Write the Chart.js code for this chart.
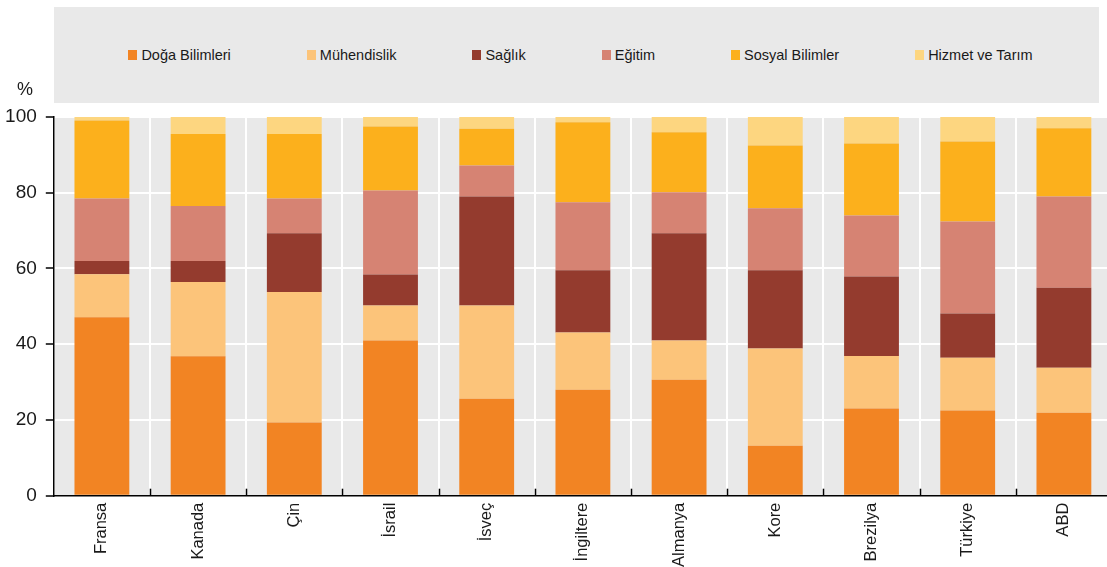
<!DOCTYPE html>
<html lang="tr">
<head>
<meta charset="utf-8">
<script src="https://cdn.jsdelivr.net/npm/chart.js@4/dist/chart.umd.min.js"></script>
<style>
  html, body { margin: 0; padding: 0; background: #fff; overflow: hidden; width: 1107px; height: 567px; }
  #wrap { position: relative; width: 1107px; height: 567px; overflow: hidden; }
  #legend {
    position: absolute; left: 54px; top: 7px; width: 1045px; height: 96px;
    background: #e9e9e9; display: flex; align-items: center; justify-content: center;
    padding-left: 8px; box-sizing: border-box; gap: 76px;
    font-family: "Liberation Sans", Arial, sans-serif; font-size: 14.5px; color: #1a1a1a;
  }
  .item { display: flex; align-items: center; white-space: nowrap; }
  .sw { width: 9px; height: 10px; margin-right: 4px; }
  #unit {
    position: absolute; left: 17px; top: 79px;
    font-family: "Liberation Sans", Arial, sans-serif; font-size: 18px; color: #1a1a1a;
  }
  canvas { position: absolute; left: 0; top: 0; }
</style>
</head>
<body>
<div id="wrap">
  <canvas id="c" width="1112" height="567"></canvas>
  <div id="legend"></div>
  <div id="unit">%</div>
</div>
<script>
// Countries along the x axis
const categories = ['Fransa', 'Kanada', 'Çin', 'İsrail', 'İsveç', 'İngiltere', 'Almanya', 'Kore', 'Brezilya', 'Türkiye', 'ABD'];

// Share of graduates by field (%), stacked from the bottom up
const dogaBilimleri = [47.1, 36.8, 19.3, 41.0, 25.6, 28.0, 30.6, 13.2, 23.0, 22.5, 21.9];
const muhendislik   = [11.4, 19.6, 34.5,  9.2, 24.6, 15.1, 10.4, 25.7, 13.9, 13.9, 11.9];
const saglik        = [ 3.5,  5.6, 15.5,  8.2, 28.8, 16.4, 28.3, 20.6, 21.0, 11.7, 21.1];
const egitim        = [16.5, 14.5,  9.2, 22.2,  8.2, 18.0, 10.8, 16.4, 16.1, 24.3, 24.1];
const sosyalBilimler= [20.6, 19.0, 17.0, 16.9,  9.7, 21.1, 15.9, 16.6, 19.0, 21.1, 18.0];
const hizmetTarim   = [ 0.9,  4.5,  4.5,  2.5,  3.1,  1.4,  4.0,  7.5,  7.0,  6.5,  3.0];

const seriesNames = ['Doğa Bilimleri', 'Mühendislik', 'Sağlık', 'Eğitim', 'Sosyal Bilimler', 'Hizmet ve Tarım'];
const seriesValues = [dogaBilimleri, muhendislik, saglik, egitim, sosyalBilimler, hizmetTarim];
const seriesColors = ['#f28423', '#fcc47a', '#943b2e', '#d68373', '#fcb01c', '#fdd680'];

// Y axis tick values
const yTicks = [0, 20, 40, 60, 80, 100];

const datasets = seriesNames.map((name, i) => ({
  label: name,
  data: seriesValues[i],
  backgroundColor: seriesColors[i],
  borderWidth: 0,
  barPercentage: 0.57,
  categoryPercentage: 1.0
}));

// Grey plotting area behind the bars
const plotBackground = {
  id: 'plotBackground',
  beforeDraw(chart) {
    const { ctx, chartArea: a } = chart;
    ctx.save();
    ctx.fillStyle = '#e9e9e9';
    ctx.fillRect(a.left, a.top, a.right - a.left, a.bottom - a.top);
    ctx.restore();
  }
};

// Short upward tick marks on the x axis between categories
const innerTicks = {
  id: 'innerTicks',
  afterDatasetsDraw(chart) {
    const { ctx, chartArea: a, scales: { x } } = chart;
    ctx.save();
    ctx.strokeStyle = '#000';
    ctx.lineWidth = 1.5;
    for (let i = 1; i < categories.length; i++) {
      const px = Math.round((x.getPixelForTick(i - 1) + x.getPixelForTick(i)) / 2) + 0.5;
      ctx.beginPath();
      ctx.moveTo(px, a.bottom);
      ctx.lineTo(px, a.bottom - 7);
      ctx.stroke();
    }
    ctx.restore();
  }
};

const chart = new Chart(document.getElementById('c'), {
  type: 'bar',
  data: { labels: categories, datasets },
  options: {
    responsive: false,
    animation: false,
    devicePixelRatio: 1,
    layout: { padding: { top: 117, left: 0, right: 0, bottom: 0 } },
    plugins: {
      legend: { display: false },
      tooltip: { enabled: false }
    },
    scales: {
      x: {
        stacked: true,
        offset: true,
        grid: { offset: true, color: '#ffffff', lineWidth: 2, drawTicks: false },
        border: { display: true, color: '#000', width: 1.5 },
        ticks: {
          autoSkip: false, minRotation: 90, maxRotation: 90, padding: 7,
          color: '#1a1a1a',
          font: { family: '"Liberation Sans", Arial, sans-serif', size: 16.5 }
        },
        afterFit(scale) { scale.height = 71.3; }
      },
      y: {
        stacked: true,
        min: 0, max: 100,
        afterBuildTicks(scale) { scale.ticks = yTicks.map(v => ({ value: v })); },
        grid: { color: '#ffffff', lineWidth: 2, tickColor: '#000', tickLength: 8, tickWidth: 1.5 },
        border: { display: true, color: '#000', width: 1.5 },
        ticks: {
          padding: 9, color: '#1a1a1a',
          font: { family: '"Liberation Sans", Arial, sans-serif', size: 19 }
        },
        afterFit(scale) { scale.width = 53.8; }
      }
    }
  },
  plugins: [plotBackground, innerTicks]
});

// Legend built from the chart's own datasets
const legend = document.getElementById('legend');
chart.data.datasets.forEach(ds => {
  const item = document.createElement('div');
  item.className = 'item';
  const sw = document.createElement('span');
  sw.className = 'sw';
  sw.style.background = ds.backgroundColor;
  const txt = document.createElement('span');
  txt.textContent = ds.label;
  item.appendChild(sw);
  item.appendChild(txt);
  legend.appendChild(item);
});
</script>
</body>
</html>
